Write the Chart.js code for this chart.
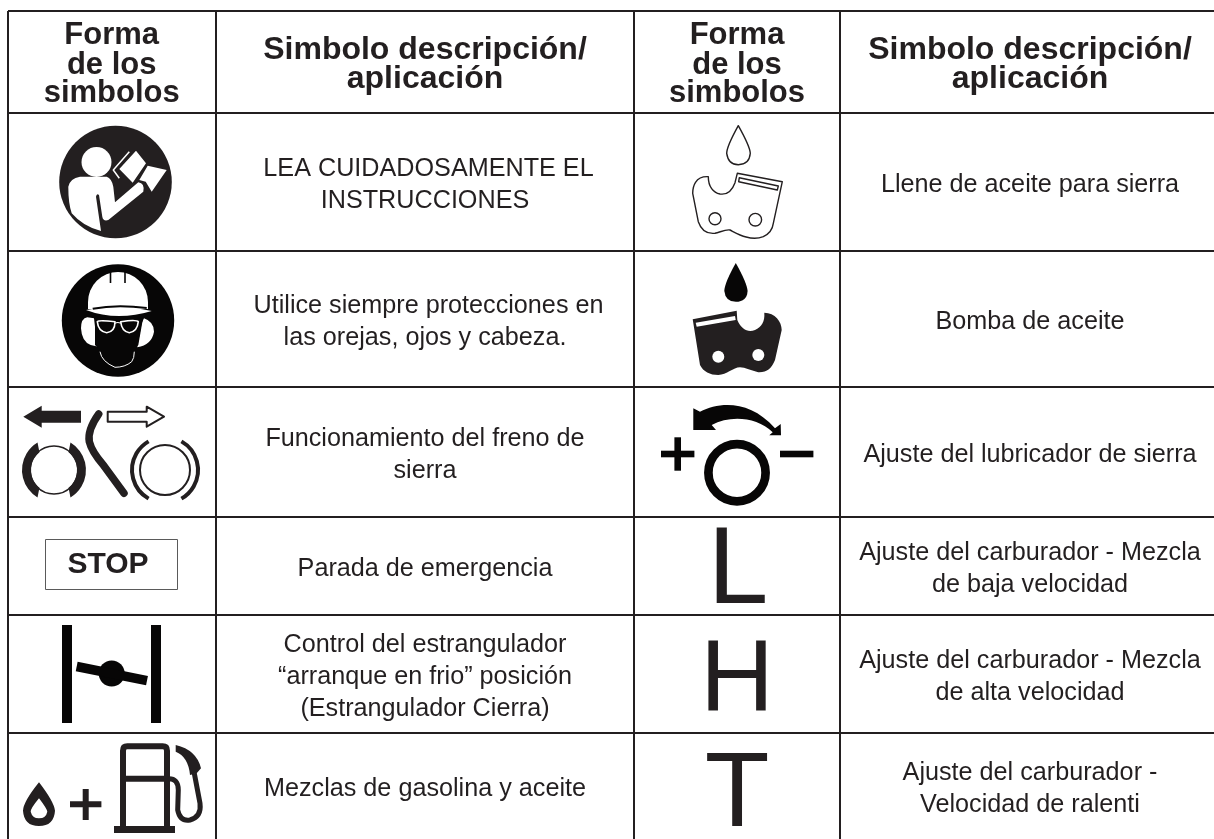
<!DOCTYPE html>
<html><head><meta charset="utf-8">
<style>html,body{margin:0;padding:0;background:#fff}#w{width:1214px;height:839px;position:relative}canvas{display:block}</style>
<script src="https://cdn.jsdelivr.net/npm/chart.js@4/dist/chart.umd.min.js"></script>
</head><body><div id="w"><canvas id="c" width="1214" height="839"></canvas></div>
<script>
const columnEdges=[8,216,634,840];
const rowEdges=[11,113,251,387,517,615,733];
const columnCenters=[111.7,425,737,1030];
const symbolHeader=["Forma","de los","simbolos"];
const descHeader=["Simbolo descripción/","aplicación"];
const leftDescriptions=[["LEA CUIDADOSAMENTE EL","INSTRUCCIONES"],["Utilice siempre protecciones en","las orejas, ojos y cabeza."],["Funcionamiento del freno de","sierra"],["Parada de emergencia"],["Control del estrangulador","“arranque en frio” posición","(Estrangulador Cierra)"],["Mezclas de gasolina y aceite"]];
const rightDescriptions=[["Llene de aceite para sierra"],["Bomba de aceite"],["Ajuste del lubricador de sierra"],["Ajuste del carburador - Mezcla","de baja velocidad"],["Ajuste del carburador - Mezcla","de alta velocidad"],["Ajuste del carburador -","Velocidad de ralenti"]];
const INK='#231f20';
const BLACK='#070606';
const FONT='"Liberation Sans",Arial,sans-serif';

function P(ctx,d,fill,stroke,lw){const p=new Path2D(d);if(fill){ctx.fillStyle=fill;ctx.fill(p,'evenodd')}if(stroke){ctx.strokeStyle=stroke;ctx.lineWidth=lw||1;ctx.stroke(p)}}
function Z(ox,oy,pts){return pts.replace(/(-?\d+(?:\.\d+)?),(-?\d+(?:\.\d+)?)/g,(m,a,b)=>(ox+a/3).toFixed(1)+','+(oy+b/3).toFixed(1));}
function circ(ctx,x,y,r,fill,stroke,lw){ctx.beginPath();ctx.arc(x,y,r,0,Math.PI*2);if(fill){ctx.fillStyle=fill;ctx.fill()}if(stroke){ctx.strokeStyle=stroke;ctx.lineWidth=lw;ctx.stroke()}}
function text(ctx,t,x,y,font,color){ctx.font=font;ctx.fillStyle=color||INK;ctx.textAlign='center';ctx.textBaseline='alphabetic';ctx.fillText(t,x,y)}

function drawIcons(ctx){
  ctx.lineJoin='round';
  // reader
  circ(ctx,115.5,182,56.3,INK);
  circ(ctx,96.5,162,15,'#fff');
  P(ctx,Z(0,0,'M205,560 Q210,535 240,530 L320,530 Q335,535 340,560 L345,607 L415,547 Q435,550 430,575 L325,660 Q310,665 307,650 L297,585 Q290,578 288,590 L303,693 Q250,680 215,640 Q205,610 205,560 Z'),'#fff');
  P(ctx,Z(0,0,'M358,507 L408,452 L438,490 L398,548 Z M443,497 L500,510 L455,575 L437,545 L418,540 Z'),'#fff');
  P(ctx,Z(0,0,'M388,455 L340,510 L358,535'),null,'#fff',1.5);
  // helmet
  circ(ctx,118,320.5,56.2,BLACK);
  P(ctx,'M88,309 L88,302 A30,30 0 0 1 148,302 L148,309 Z','#fff');
  P(ctx,'M110.5,271 V283 M125,271 V283',null,BLACK,1.6);
  P(ctx,Z(0,290,'M258,60 Q350,40 455,63 Q350,95 258,60 Z'),'#fff');
  P(ctx,Z(0,290,'M278,56 Q350,42 440,54'),null,BLACK,2);
  P(ctx,Z(0,290,'M262,82 Q243,85 243,115 Q245,155 272,165 L295,170 L285,110 L282,85 Z M432,85 Q462,95 462,125 Q455,165 412,172 L425,100 Z'),'#fff');
  P(ctx,Z(0,290,'M285,90 L285,165 L300,180 L400,180 L415,165 L428,90 Z'),BLACK);
  P(ctx,Z(0,290,'M292,95 Q295,90 345,95 Q345,125 320,128 Q295,125 292,95 Z M362,95 Q410,88 415,95 Q412,125 388,128 Q365,125 362,95 Z'),BLACK,'#fff',1.6);
  P(ctx,Z(0,290,'M345,100 Q353,95 362,100'),null,'#fff',1.2);
  P(ctx,Z(0,290,'M300,185 Q305,215 345,232 Q375,232 395,215 Q403,205 403,185'),null,'#fff',1);
  // brake
  P(ctx,Z(0,290,'M70,380 L125,347 L125,362 L243,362 L243,398 L125,398 L125,413 Z'),INK);
  P(ctx,Z(0,290,'M323,365 L440,365 L440,350 L492,380 L440,410 L440,395 L323,395 Z'),'#fff',INK,2);
  ctx.lineCap='round';
  P(ctx,Z(0,290,'M296,372 Q262,420 268,455 Q275,485 310,525 L372,610'),null,INK,7.5);
  ctx.lineCap='butt';
  circ(ctx,54,470,24,null,INK,1.6);
  const a=59*Math.PI/180;
  ctx.fillStyle=INK;
  ctx.beginPath();ctx.arc(54,470,32,Math.PI-a,Math.PI+a);ctx.arc(54,470,23,Math.PI+a*.86,Math.PI-a*.86,true);ctx.closePath();ctx.fill();
  ctx.beginPath();ctx.arc(54,470,32,-a,a);ctx.arc(54,470,23,a*.86,-a*.86,true);ctx.closePath();ctx.fill();
  circ(ctx,165,470,25,null,INK,2);
  ctx.strokeStyle=INK;ctx.lineWidth=4;
  ctx.beginPath();ctx.arc(165,470,33,Math.PI-1.05,Math.PI+1.05);ctx.stroke();
  ctx.beginPath();ctx.arc(165,470,33,-1.05,1.05);ctx.stroke();
  // stop
  ctx.strokeStyle='#5a5a5a';ctx.lineWidth=1;ctx.strokeRect(45.5,539.5,132,50);
  text(ctx,'STOP',108,572.7,'bold 30px '+FONT);
  // choke
  ctx.fillStyle=BLACK;ctx.fillRect(62,625,10,98);ctx.fillRect(151,625,10,98);
  circ(ctx,111.7,673.5,13,BLACK);
  P(ctx,'M76.7,666.5 L147,680.7',null,BLACK,9.5);
  // fuel
  P(ctx,Z(0,540,'M117,727 Q70,785 69,812 Q72,858 117,858 Q162,858 165,812 Q162,785 117,727 Z M117,775 Q92,805 92,815 Q97,835 117,835 Q138,835 142,815 Q140,805 117,775 Z'),INK);
  P(ctx,'M70,804.3 H101.4 M85.7,789 V820',null,INK,6);
  P(ctx,Z(0,540,'M369,862 L369,632 Q369,619 382,619 L488,619 Q501,619 501,632 L501,862 M369,716 L501,716'),null,INK,6);
  ctx.fillStyle=INK;ctx.fillRect(114,826,61,7);
  P(ctx,Z(0,540,'M505,716 Q535,715 535,750 L533,810 Q540,845 570,840 Q605,830 600,790 L583,700'),null,INK,5);
  P(ctx,Z(0,540,'M527,615 Q590,630 603,685 L590,700 L570,705 Q565,650 527,635 Z'),INK);
  // outline drop + chain
  P(ctx,Z(620,0,'M355,377 Q320,440 320,460 Q325,494 355,494 Q388,494 391,460 Q390,440 355,377 Z'),null,INK,1.4);
  P(ctx,Z(620,0,'M265,530 C225,528 218,560 218,580 L235,665 C245,695 265,702 285,700 C300,697 315,688 330,690 C350,700 390,725 430,710 C450,700 458,685 460,670 L487,545 L352,520 L345,548 C335,575 320,585 300,582 C280,578 265,560 265,530 Z'),null,INK,1.4);
  circ(ctx,715,218.7,6,null,INK,1.4);circ(ctx,755.3,219.7,6.3,null,INK,1.4);
  P(ctx,Z(620,0,'M358,533 L475,558 L472,570 L356,545 Z'),null,INK,1.4);
  // filled drop + chain
  P(ctx,'M735.8,263 Q724.5,283 724.3,291 Q725.5,301.8 735.8,301.8 Q747,301.8 747.6,291 Q747,283 735.8,263 Z',BLACK);
  P(ctx,Z(640,280,'M158,118 L290,92 L292,120 C305,150 325,158 345,150 C365,140 375,125 373,98 C405,98 425,125 425,150 L405,240 C395,265 380,278 355,277 C335,272 315,262 300,262 C280,262 260,285 235,285 C210,285 190,275 180,255 Z'),INK);
  circ(ctx,718.3,356.7,6,'#fff');circ(ctx,758.3,355,6,'#fff');
  P(ctx,Z(640,280,'M167,128 L285,108 L287,120 L170,140 Z'),'#fff');
  // lubricator
  ctx.fillStyle=BLACK;
  ctx.fillRect(661,450.7,33.4,6.6);ctx.fillRect(674.4,437.3,6.6,33.4);ctx.fillRect(780,450.7,33.4,6.6);
  circ(ctx,737,472.7,28.6,null,BLACK,8.7);
  P(ctx,Z(640,280,'M160,385 L180,395 C240,365 330,360 405,445 L422,432 L423,466 L388,466 L398,457 C350,410 270,405 215,435 L228,450 L160,450 Z'),BLACK);
}

new Chart(document.getElementById('c'),{
  type:'scatter',
  data:{datasets:[{data:[],pointRadius:0}]},
  plugins:[{id:'tableContent',afterDatasetsDraw(chart){
    const ctx=chart.ctx,Y=chart.scales.y,X=chart.scales.x;
    ctx.save();
    const hdr=(lines,col,ys)=>lines.forEach((l,i)=>text(ctx,l,X.getPixelForValue(columnCenters[col]),Y.getPixelForValue(ys[i]),(lines===descHeader?'bold 32px ':'bold 31px ')+FONT));
    hdr(symbolHeader,0,[44,74,101.7]);hdr(descHeader,1,[59.3,88.3]);hdr(symbolHeader,2,[44,74,101.7]);hdr(descHeader,3,[59.3,88.3]);
    const body=(list,col,firstLineNudge)=>list.forEach((lines,i)=>{
      const top=rowEdges[i+1],bot=rowEdges[i+2]===undefined?839:rowEdges[i+2],mid=(top+bot)/2;
      lines.forEach((l,j)=>{
        const nudge=(firstLineNudge&&i<2&&j===0)?3.5:0;
        text(ctx,l,X.getPixelForValue(columnCenters[col])+nudge,Y.getPixelForValue(mid+(j-(lines.length-1)/2)*32+9.5),'25.2px '+FONT);
      });
    });
    body(leftDescriptions,1,true);body(rightDescriptions,3,false);
    text(ctx,'L',738,603,'109px '+FONT);
    text(ctx,'H',737,711,'102.5px '+FONT);
    text(ctx,'T',737,825.5,'106px '+FONT);
    drawIcons(ctx);
    ctx.restore();
  }}],
  options:{
    responsive:false,animation:false,devicePixelRatio:1,
    layout:{padding:{left:8,top:11,right:0,bottom:0}},
    plugins:{legend:{display:false},tooltip:{enabled:false},title:{display:false}},
    scales:{
      x:{type:'linear',position:'top',min:8,max:1214,afterBuildTicks(s){s.ticks=columnEdges.map(v=>({value:v}))},
        afterFit(s){s.height=0},
        grid:{color:INK,lineWidth:2,drawTicks:false},border:{display:false},ticks:{display:false}},
      y:{type:'linear',reverse:true,min:11,max:839,afterBuildTicks(s){s.ticks=rowEdges.map(v=>({value:v}))},
        afterFit(s){s.width=0},
        grid:{color:INK,lineWidth:2,drawTicks:false},border:{display:false},ticks:{display:false}}
    }
  }
});
</script></body></html>
